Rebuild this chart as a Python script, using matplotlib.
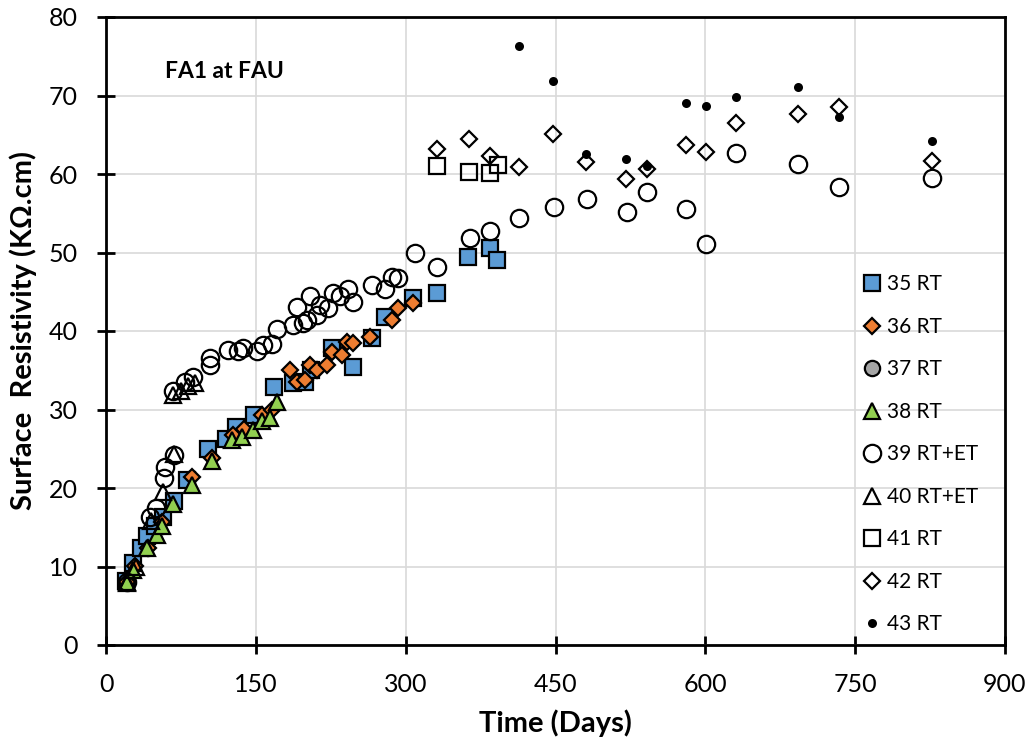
import numpy as np
import matplotlib
matplotlib.use("Agg")
import matplotlib.pyplot as plt

plt.rcParams['font.family'] = ['Lato', 'DejaVu Sans']

# ---- data (days, surface resistivity kOhm.cm) ----
s35_days = [20, 27, 35, 41, 49, 57, 68, 81, 102, 120, 130, 148, 168, 187, 199, 205,
            226, 247, 266, 279, 307, 331, 362, 384, 391]
s35_vals = [8.2, 10.4, 12.3, 13.9, 15.2, 16.3, 18.3, 21.0, 25.0, 26.3, 27.8, 29.3, 32.9,
            33.4, 33.5, 35.0, 37.8, 35.4, 39.1, 41.8, 44.2, 44.8, 49.4, 50.6, 49.0]

s36_days = [21, 29, 42, 56, 86, 106, 127, 138, 156, 166, 184, 191, 199, 204, 211, 221,
            226, 236, 241, 247, 264, 286, 292, 307]
s36_vals = [8.0, 10.1, 12.4, 15.7, 21.4, 23.8, 26.8, 27.5, 29.3, 30.0, 35.0, 33.5, 33.8,
            35.7, 35.0, 35.7, 37.3, 36.9, 38.6, 38.5, 39.2, 41.4, 42.9, 43.6]

s37_days = []
s37_vals = []

s38_days = [21, 27, 41, 51, 56, 67, 86, 106, 126, 136, 147, 156, 164, 171]
s38_vals = [7.9, 9.6, 12.3, 14.0, 15.1, 18.0, 20.4, 23.4, 26.1, 26.5, 27.4, 28.5, 28.9, 31.0]

s39_days = [21, 44, 50, 58, 59, 68, 67, 79, 87, 104, 104, 122, 132, 137, 151, 157, 166,
            171, 187, 191, 197, 201, 204, 211, 214, 222, 227, 234, 242, 247, 266, 279,
            286, 292, 309, 331, 364, 384, 413, 448, 482, 522, 542, 581, 601, 631, 693,
            734, 827]
s39_vals = [8.0, 16.3, 17.5, 21.3, 22.7, 24.2, 32.3, 33.5, 34.2, 35.7, 36.5, 37.6, 37.4,
            37.8, 37.4, 38.2, 38.4, 40.3, 40.8, 43.1, 41.0, 41.4, 44.4, 42.0, 43.3, 42.9,
            44.8, 44.4, 45.4, 43.7, 45.9, 45.4, 46.9, 46.7, 49.9, 48.2, 51.8, 52.8, 54.4,
            55.8, 56.8, 55.1, 57.7, 55.6, 51.1, 62.7, 61.3, 58.3, 59.5]

s40_days = [21, 30, 45, 57, 68, 67, 75, 82, 89]
s40_vals = [8.0, 10.0, 15.8, 19.5, 24.3, 31.9, 32.4, 33.0, 33.4]

s41_days = [331, 363, 384, 392]
s41_vals = [61.0, 60.3, 60.1, 61.1]

s42_days = [331, 363, 384, 413, 447, 481, 521, 542, 581, 601, 631, 693, 734, 827]
s42_vals = [63.2, 64.4, 62.3, 60.9, 65.1, 61.5, 59.3, 60.6, 63.7, 62.8, 66.5, 67.7, 68.5, 61.7]

s43_days = [413, 447, 481, 521, 542, 581, 601, 631, 693, 734, 827]
s43_vals = [76.3, 71.8, 62.5, 61.9, 61.0, 69.0, 68.7, 69.8, 71.1, 67.3, 64.2]

fig = plt.figure(figsize=(10.31, 7.49), dpi=100)
ax = fig.add_axes([106 / 1031, 1 - 645 / 749, 899 / 1031, 628 / 749])

ew = 1.6
ax.plot(s35_days, s35_vals, 's', ms=11.5, mfc='#5B9BD5', mec='black', mew=ew, label='35 RT')
ax.plot(s36_days, s36_vals, 'D', ms=8, mfc='#ED7D31', mec='black', mew=ew, label='36 RT')
ax.plot(s37_days, s37_vals, 'o', ms=11, mfc='#A5A5A5', mec='black', mew=ew, label='37 RT')
ax.plot(s38_days, s38_vals, '^', ms=12, mfc='#92D050', mec='black', mew=ew, label='38 RT')
ax.plot(s39_days, s39_vals, 'o', ms=12.5, mfc='none', mec='black', mew=ew, label='39 RT+ET')
ax.plot(s40_days, s40_vals, '^', ms=12, mfc='none', mec='black', mew=ew, label='40 RT+ET')
ax.plot(s41_days, s41_vals, 's', ms=12, mfc='none', mec='black', mew=ew, label='41 RT')
ax.plot(s42_days, s42_vals, 'D', ms=8.5, mfc='none', mec='black', mew=ew, label='42 RT')
ax.plot(s43_days, s43_vals, 'o', ms=6.5, mfc='black', mec='black', mew=0, label='43 RT')

ax.set_xlim(0, 900)
ax.set_ylim(0, 80)
ax.set_xticks(np.arange(0, 901, 150))
ax.set_yticks(np.arange(0, 81, 10))
ax.grid(True, color='#D9D9D9', lw=1.2)
ax.set_axisbelow(True)
for sp in ax.spines.values():
    sp.set_linewidth(2)
    sp.set_color('black')
ax.tick_params(direction='inout', length=13, width=2, labelsize=18)
ax.tick_params(axis='y', pad=14)
ax.tick_params(axis='x', pad=14)

ax.set_xlabel('Time (Days)', fontsize=21, fontweight='bold', labelpad=9)
ax.set_ylabel('Surface  Resistivity (K\u03A9.cm)', fontsize=21, fontweight='bold', labelpad=8)

ax.text(0.066, 0.914, 'FA1 at FAU', transform=ax.transAxes, fontsize=16.5,
        fontweight='bold', va='center', ha='left')

ax.legend(loc='upper left', bbox_to_anchor=(0.83, 0.6035), frameon=False, fontsize=15,
          labelspacing=1.08, handletextpad=0.1, handlelength=1.15, borderaxespad=0)

fig.savefig('out.png', dpi=100)
